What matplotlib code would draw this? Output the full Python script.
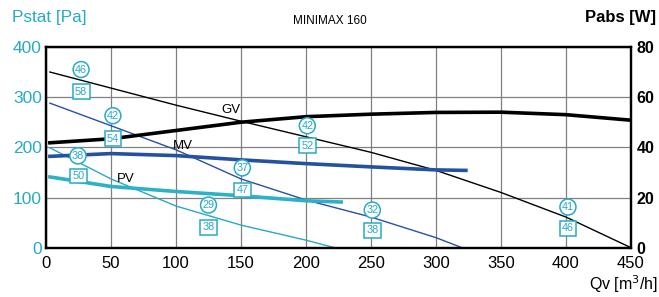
import matplotlib
matplotlib.use("Agg")
import matplotlib.pyplot as plt

CYAN = "#27aac6"
plt.rcParams["font.family"] = ["Liberation Sans", "DejaVu Sans"]

# pressure curves (Pa) vs flow (m3/h)
gv_q = [3, 50, 100, 150, 200, 250, 300, 350, 400, 450]
gv_p = [350, 318, 284, 252, 221, 190, 154, 110, 61, 0]
mv_q = [3, 50, 100, 150, 200, 250, 300, 320]
mv_p = [288, 243, 195, 137, 95, 61, 20, 0]
pv_q = [3, 50, 100, 150, 200, 222]
pv_p = [199, 137, 83, 45, 15, 0]

# absorbed power curves (W)
gv_wq = [3, 50, 100, 150, 200, 250, 300, 350, 400, 450]
gv_w = [41.8, 43.4, 46.7, 50.0, 52.2, 53.2, 53.9, 54.0, 53.0, 50.8]
mv_wq = [3, 50, 100, 150, 200, 250, 300, 323]
mv_w = [36.4, 37.5, 36.7, 35.0, 33.5, 32.2, 31.0, 30.8]
pv_wq = [3, 50, 100, 150, 200, 227]
pv_w = [28.2, 24.4, 22.4, 20.7, 18.7, 18.2]

# noise labels: (Qv, Pa, text) circles and squares
circ_q = [27, 51.5, 24.6, 125, 151, 201, 251, 401.5]
circ_p = [355, 263, 183, 85, 159, 243, 75, 81]
circ_t = ["46", "42", "38", "29", "37", "42", "32", "41"]
sq_q = [27, 51.5, 25, 125, 151, 201, 251, 401.5]
sq_p = [311, 217, 143, 41, 115, 203, 35, 39]
sq_t = ["58", "54", "50", "38", "47", "52", "38", "46"]

curve_names = ["GV", "MV", "PV"]
name_q = [142, 105, 61.5]
name_p = [275, 203, 137]

fig = plt.figure(figsize=(6.59, 2.97), dpi=100)
ax = fig.add_axes([0.0698, 0.166, 0.8877, 0.676])
ax2 = ax.twinx()

ax.set_xlim(0, 450); ax.set_ylim(0, 400)
ax2.set_ylim(0, 80)
ax.set_xticks(range(0, 451, 50)); ax.set_yticks(range(0, 401, 100))
ax2.set_yticks(range(0, 81, 20))
ax.grid(True, color="#808080", lw=0.9)
ax.set_axisbelow(True)
for a in (ax, ax2):
    for sp in a.spines.values():
        sp.set_color("black"); sp.set_linewidth(1.6)
ax.tick_params(axis="y", length=0, labelsize=12.5, labelcolor=CYAN, pad=3)
ax.tick_params(axis="x", length=0, labelsize=12, pad=6)
ax2.tick_params(axis="y", length=0, labelsize=11.5, pad=4)
for t in ax2.get_yticklabels():
    t.set_fontweight("bold")

ax.plot(gv_q, gv_p, color="black", lw=1.0)
ax.plot(mv_q, mv_p, color="#2a4fa8", lw=1.0)
ax.plot(pv_q, pv_p, color=CYAN, lw=1.0)
ax2.plot(gv_wq, gv_w, color="black", lw=2.6)
ax2.plot(mv_wq, mv_w, color="#2552a0", lw=2.6)
ax2.plot(pv_wq, pv_w, color="#2cb2c6", lw=2.6)

for n, q, p in zip(curve_names, name_q, name_p):
    ax.text(q, p, n, fontsize=9.5, ha="center", va="center", zorder=5)

for q, p, t in zip(circ_q, circ_p, circ_t):
    ax2.annotate(t, (q, p * 0.2), ha="center", va="center", fontsize=7.8, color=CYAN, zorder=6,
                 bbox=dict(boxstyle="circle,pad=0.18", fc="white", ec=CYAN, lw=1.1))
for q, p, t in zip(sq_q, sq_p, sq_t):
    ax2.annotate(t, (q, p * 0.2), ha="center", va="center", fontsize=7.8, color=CYAN, zorder=6,
                 bbox=dict(boxstyle="square,pad=0.22", fc="white", ec=CYAN, lw=1.1))

fig.text(0.018, 0.915, "Pstat [Pa]", color=CYAN, fontsize=12.3, ha="left", va="bottom")
fig.text(0.995, 0.915, "Pabs [W]", fontsize=12, fontweight="bold", ha="right", va="bottom")
fig.text(0.5, 0.93, "MINIMAX 160", fontsize=8.5, ha="center", va="center")
fig.text(0.998, 0.008, "Qv [m$^3$/h]", fontsize=11.5, ha="right", va="bottom")

fig.savefig("out.png", dpi=100, facecolor="white")
